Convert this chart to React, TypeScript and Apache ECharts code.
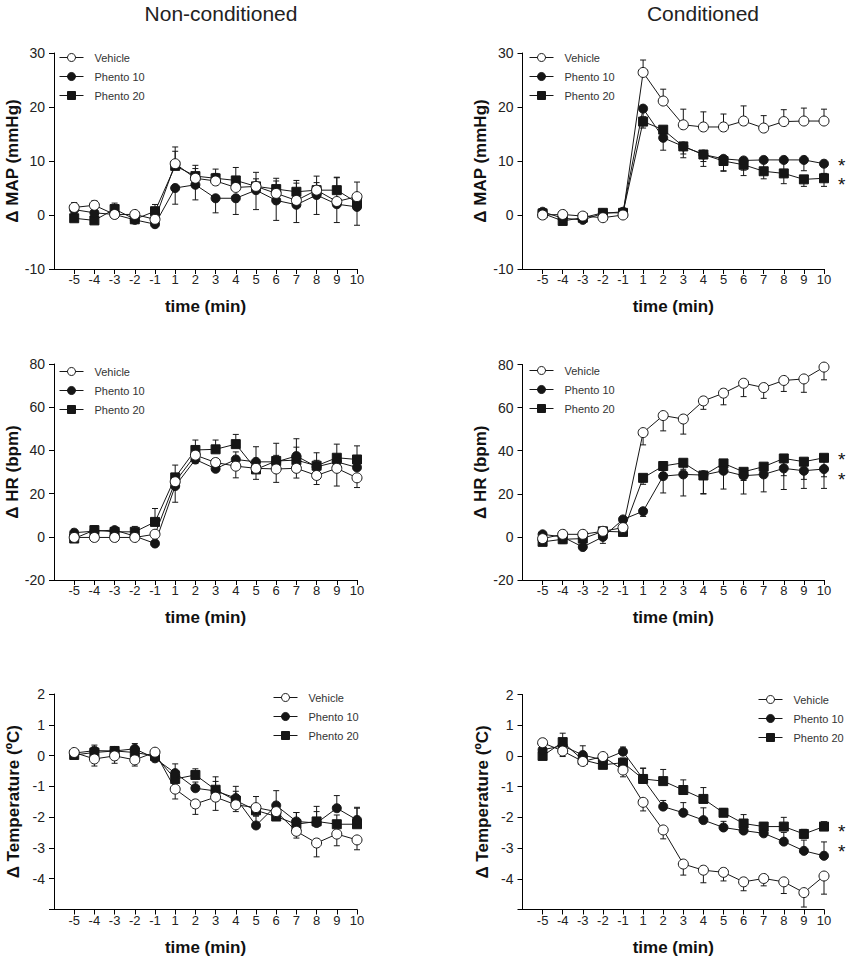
import React, { useEffect, useRef } from 'react';
import * as echarts from 'echarts';

// ---------- data ----------
const timeLabels = ['-5', '-4', '-3', '-2', '-1', '1', '2', '3', '4', '5', '6', '7', '8', '9', '10'];
const seriesNames = ['Vehicle', 'Phento 10', 'Phento 20'];
const columnTitles = ['Non-conditioned', 'Conditioned'];

// Δ MAP, non-conditioned
const mapNcVehicle = [1.4, 1.8, 0.1, 0.1, -0.8, 9.5, 6.8, 6.3, 5.1, 5.3, 4.0, 2.7, 4.6, 2.5, 3.4];
const mapNcVehicleSem = [0.9, 0.8, 0.5, 0.5, 0.8, 3.1, 2.4, 2.2, 2.0, 2.6, 2.8, 3.7, 2.6, 4.5, 2.7];
const mapNcP10 = [1.0, 0.4, 0.1, -0.9, -1.7, 5.0, 5.6, 3.1, 3.1, 4.6, 2.7, 1.9, 3.7, 2.0, 1.5];
const mapNcP10Sem = [0.8, 0.8, 0.5, 0.5, 0.5, 3.0, 2.8, 2.7, 3.0, 3.6, 3.7, 3.3, 3.6, 3.4, 3.4];
const mapNcP20 = [-0.6, -1.0, 1.1, -0.8, 0.7, 9.1, 7.2, 6.8, 6.4, 5.3, 4.8, 4.3, 4.6, 4.6, 2.3];
const mapNcP20Sem = [0.6, 0.6, 1.1, 0.6, 1.25, 2.7, 1.4, 0.9, 2.4, 1.4, 1.5, 1.6, 1.4, 2.3, 1.4];

// Δ MAP, conditioned
const mapCVehicle = [0.0, 0.1, -0.2, -0.5, 0.0, 26.4, 21.1, 16.7, 16.3, 16.3, 17.4, 16.1, 17.3, 17.4, 17.4];
const mapCVehicleSem = [0.4, 0.4, 0.4, 0.4, 0.4, 2.3, 2.2, 2.9, 2.8, 2.4, 2.8, 2.3, 2.2, 2.4, 2.2];
const mapCP10 = [0.6, -0.6, -0.9, 0.3, 0.6, 19.7, 14.3, 12.7, 11.2, 10.4, 10.1, 10.2, 10.2, 10.2, 9.5];
const mapCP10Sem = [0.3, 0.3, 0.3, 0.3, 0.3, 1.5, 2.3, 2.1, 2.2, 2.2, 1.8, 1.8, 1.8, 2.0, 1.8];
const mapCP20 = [0.3, -1.1, -0.5, 0.4, 0.4, 17.3, 15.8, 12.7, 11.2, 10.0, 9.3, 8.1, 7.7, 6.6, 6.8];
const mapCP20Sem = [0.3, 0.4, 0.3, 0.3, 0.3, 1.2, 1.5, 1.4, 1.3, 1.9, 2.0, 1.4, 1.9, 1.3, 1.5];

// Δ HR, non-conditioned
const hrNcVehicle = [-0.3, -0.3, -0.3, -0.3, 1.2, 25.5, 37.8, 34.4, 32.7, 31.7, 31.4, 31.7, 28.4, 31.7, 27.3];
const hrNcVehicleSem = [1.0, 0.8, 0.8, 1.0, 1.5, 9.5, 3.9, 4.3, 5.4, 5.1, 6.2, 4.5, 4.2, 8.2, 4.5];
const hrNcP10 = [1.9, 2.6, 3.1, 0.3, -3.1, 23.5, 35.8, 31.5, 35.8, 34.7, 34.7, 37.4, 32.4, 34.7, 32.1];
const hrNcP10Sem = [1.5, 1.0, 1.0, 1.0, 1.0, 3.0, 3.0, 3.0, 3.5, 7.0, 3.0, 8.0, 3.0, 3.0, 3.0];
const hrNcP20 = [-0.8, 3.1, 2.3, 2.3, 6.9, 27.5, 40.2, 40.5, 42.9, 31.2, 35.1, 35.5, 32.9, 36.6, 35.8];
const hrNcP20Sem = [2.0, 2.0, 1.5, 2.5, 6.2, 5.7, 4.6, 4.3, 4.5, 3.0, 8.2, 6.0, 6.0, 6.3, 6.3];

// Δ HR, conditioned
const hrCVehicle = [-0.8, 1.2, 1.2, 2.6, 4.3, 48.4, 56.3, 54.7, 63.1, 66.7, 71.3, 69.3, 72.6, 73.3, 78.8];
const hrCVehicleSem = [1.0, 1.0, 1.0, 1.0, 1.0, 5.7, 7.1, 7.0, 3.9, 5.4, 6.2, 5.0, 5.1, 6.2, 5.9];
const hrCP10 = [1.2, 0.0, -4.7, 0.0, 8.1, 11.9, 28.2, 29.0, 28.7, 30.7, 28.4, 29.0, 31.8, 30.7, 31.5];
const hrCP10Sem = [1.0, 1.0, 1.0, 3.0, 1.5, 2.4, 7.8, 10.0, 8.8, 8.5, 8.5, 8.1, 9.8, 8.2, 9.0];
const hrCP20 = [-2.3, -1.1, -0.8, 2.6, 2.3, 27.4, 32.9, 34.4, 28.5, 34.1, 30.2, 32.6, 36.4, 34.9, 36.7];
const hrCP20Sem = [1.0, 2.0, 1.0, 1.0, 1.0, 3.0, 3.0, 3.0, 8.4, 4.0, 4.0, 5.0, 8.0, 8.2, 8.8];

// Δ Temperature, non-conditioned
const tNcVehicle = [0.1, -0.11, -0.01, -0.14, 0.11, -1.09, -1.57, -1.35, -1.6, -1.69, -1.82, -2.46, -2.84, -2.55, -2.74];
const tNcVehicleSem = [0.05, 0.23, 0.24, 0.2, 0.05, 0.32, 0.34, 0.43, 0.22, 0.25, 0.25, 0.22, 0.45, 0.38, 0.32];
const tNcP10 = [0.08, 0.16, 0.15, 0.22, -0.09, -0.57, -1.06, -1.15, -1.38, -2.27, -1.62, -2.14, -2.19, -1.71, -2.09];
const tNcP10Sem = [0.05, 0.18, 0.1, 0.17, 0.05, 0.3, 0.2, 0.46, 0.38, 0.3, 0.48, 0.29, 0.54, 0.41, 0.41];
const tNcP20 = [0.02, 0.1, 0.15, 0.1, -0.01, -0.76, -0.63, -1.11, -1.46, -1.78, -1.98, -2.23, -2.14, -2.23, -2.23];
const tNcP20Sem = [0.05, 0.1, 0.1, 0.1, 0.05, 0.2, 0.2, 0.27, 0.3, 0.45, 0.3, 0.38, 0.32, 0.3, 0.52];

// Δ Temperature, conditioned
const tCVehicle = [0.43, 0.16, -0.18, -0.02, -0.46, -1.51, -2.41, -3.52, -3.72, -3.79, -4.1, -3.99, -4.1, -4.45, -3.91];
const tCVehicleSem = [0.1, 0.18, 0.1, 0.1, 0.22, 0.28, 0.29, 0.36, 0.41, 0.28, 0.29, 0.24, 0.38, 0.47, 0.59];
const tCP10 = [0.2, 0.33, 0.03, -0.13, 0.14, -0.75, -1.65, -1.85, -2.09, -2.33, -2.43, -2.52, -2.79, -3.09, -3.25];
const tCP10Sem = [0.1, 0.1, 0.3, 0.1, 0.15, 0.35, 0.2, 0.33, 0.4, 0.2, 0.2, 0.2, 0.3, 0.35, 0.45];
const tCP20 = [0.0, 0.45, -0.13, -0.29, -0.22, -0.75, -0.82, -1.11, -1.4, -1.85, -2.2, -2.3, -2.3, -2.54, -2.3];
const tCP20Sem = [0.1, 0.29, 0.1, 0.1, 0.15, 0.35, 0.38, 0.33, 0.37, 0.14, 0.29, 0.13, 0.3, 0.15, 0.16];

// ---------- styling / layout ----------
const FONT = '"Liberation Sans", Arial, Helvetica, sans-serif';
const INK = '#161616';

const symbolStyles = [
  { symbol: 'circle', size: 10, fill: '#ffffff' },
  { symbol: 'circle', size: 9, fill: INK },
  { symbol: 'rect', size: 9, fill: INK },
];

type Panel = {
  grid: { left: number; top: number; width: number; height: number };
  y: [number, number, number];
  yName: string;
  hideMin: boolean;
  legend: { left: number; top: number };
  means: number[][];
  sems: number[][];
  dirs: number[];
  star: (number | null)[]; // vertical nudge of the significance star per series (null = none)
};

const panels: Panel[] = [
  {
    grid: { left: 54, top: 53, width: 303, height: 216 }, y: [-10, 30, 10], yName: 'Δ MAP (mmHg)', hideMin: false,
    legend: { left: 59, top: 52 },
    means: [mapNcVehicle, mapNcP10, mapNcP20], sems: [mapNcVehicleSem, mapNcP10Sem, mapNcP20Sem], dirs: [1, -1, 1],
    star: [null, null, null],
  },
  {
    grid: { left: 522.5, top: 53, width: 301.5, height: 216 }, y: [-10, 30, 10], yName: 'Δ MAP (mmHg)', hideMin: false,
    legend: { left: 529, top: 52 },
    means: [mapCVehicle, mapCP10, mapCP20], sems: [mapCVehicleSem, mapCP10Sem, mapCP20Sem], dirs: [1, -1, -1],
    star: [null, 0, 5],
  },
  {
    grid: { left: 54, top: 364, width: 303, height: 216 }, y: [-20, 80, 20], yName: 'Δ HR (bpm)', hideMin: false,
    legend: { left: 59, top: 366 },
    means: [hrNcVehicle, hrNcP10, hrNcP20], sems: [hrNcVehicleSem, hrNcP10Sem, hrNcP20Sem], dirs: [-1, 1, 1],
    star: [null, null, null],
  },
  {
    grid: { left: 522.5, top: 364.5, width: 301.5, height: 215.5 }, y: [-20, 80, 20], yName: 'Δ HR (bpm)', hideMin: false,
    legend: { left: 529, top: 365 },
    means: [hrCVehicle, hrCP10, hrCP20], sems: [hrCVehicleSem, hrCP10Sem, hrCP20Sem], dirs: [-1, -1, -1],
    star: [null, 9, 0],
  },
  {
    grid: { left: 54, top: 694, width: 303, height: 215.5 }, y: [-5, 2, 1], yName: 'Δ Temperature (ºC)', hideMin: true,
    legend: { left: 273, top: 692 },
    means: [tNcVehicle, tNcP10, tNcP20], sems: [tNcVehicleSem, tNcP10Sem, tNcP20Sem], dirs: [-1, 1, 1],
    star: [null, null, null],
  },
  {
    grid: { left: 522.5, top: 694.5, width: 301.5, height: 215 }, y: [-5, 2, 1], yName: 'Δ Temperature (ºC)', hideMin: true,
    legend: { left: 758, top: 694 },
    means: [tCVehicle, tCP10, tCP20], sems: [tCVehicleSem, tCP10Sem, tCP20Sem], dirs: [-1, 1, 1],
    star: [null, -6, 3],
  },
];

const titlePos = [
  { left: 221, top: 3 },
  { left: 703, top: 3 },
];

function buildOption() {
  const tickIdx = timeLabels.map((_, k) => k);
  const axisLineStyle = { color: '#000', width: 1 };

  const grid = panels.map((p) => ({ ...p.grid, containLabel: false }));

  const xAxis = panels.map((p, i) => ({
    type: 'value',
    gridIndex: i,
    min: -1,
    max: timeLabels.length - 1,
    axisLine: { show: true, onZero: false, lineStyle: axisLineStyle },
    axisTick: { show: true, customValues: tickIdx, length: 5, inside: false, lineStyle: axisLineStyle },
    axisLabel: {
      customValues: tickIdx,
      formatter: (v: number) => timeLabels[Math.round(v)] ?? '',
      fontSize: 13,
      margin: 4,
      color: '#222',
      fontFamily: FONT,
    },
    splitLine: { show: false },
    name: 'time (min)',
    nameLocation: 'middle',
    nameGap: 29,
    nameTextStyle: { fontSize: 17, fontWeight: 'bold', color: '#111', fontFamily: FONT },
  }));

  const yAxis = panels.map((p, i) => ({
    type: 'value',
    gridIndex: i,
    min: p.y[0],
    max: p.y[1],
    interval: p.y[2],
    axisLine: { show: true, onZero: false, lineStyle: axisLineStyle },
    axisTick: { show: true, length: 5, inside: false, lineStyle: axisLineStyle },
    axisLabel: {
      formatter: (v: number) => (p.hideMin && v === p.y[0] ? '' : String(v)),
      fontSize: 14,
      margin: 9,
      color: '#222',
      fontFamily: FONT,
    },
    splitLine: { show: false },
    name: p.yName,
    nameLocation: 'middle',
    nameRotate: 90,
    nameGap: 32,
    nameTextStyle: { fontSize: 17, fontWeight: 'bold', color: '#111', fontFamily: FONT },
  }));

  const series: any[] = [];
  panels.forEach((p, i) => {
    // error bars first (underneath)
    [2, 1, 0].forEach((s) => {
      series.push({
        type: 'custom',
        xAxisIndex: i,
        yAxisIndex: i,
        z: 1,
        silent: true,
        encode: { x: 0, y: 1 },
        data: p.means[s].map((v, k) => [k, v, p.sems[s][k] * p.dirs[s]]),
        renderItem: (_params: any, api: any) => {
          const x = api.value(0);
          const y = api.value(1);
          const e = api.value(2);
          const p0 = api.coord([x, y]);
          const p1 = api.coord([x, y + e]);
          const cap = 3;
          const st = { stroke: INK, lineWidth: 1, fill: 'none' };
          return {
            type: 'group',
            children: [
              { type: 'line', shape: { x1: p0[0], y1: p0[1], x2: p1[0], y2: p1[1] }, style: st },
              { type: 'line', shape: { x1: p1[0] - cap, y1: p1[1], x2: p1[0] + cap, y2: p1[1] }, style: st },
            ],
          };
        },
      });
    });
    // lines with symbols: Phento 20, Phento 10, then Vehicle on top
    [2, 1, 0].forEach((s) => {
      const st = symbolStyles[s];
      const last = p.means[s].length - 1;
      const nudge = p.star[s];
      series.push({
        type: 'line',
        name: seriesNames[s],
        xAxisIndex: i,
        yAxisIndex: i,
        z: 2,
        symbol: st.symbol,
        symbolSize: st.size,
        showAllSymbol: true,
        itemStyle: { color: st.fill, borderColor: INK, borderWidth: 1, opacity: 1 },
        lineStyle: { color: INK, width: 1 },
        emphasis: { disabled: true },
        data: p.means[s].map((v, k) =>
          nudge !== null && k === last
            ? {
                value: [k, v],
                label: {
                  show: true,
                  formatter: '*',
                  position: 'right',
                  distance: 9,
                  fontSize: 19,
                  lineHeight: 12,
                  color: '#111',
                  fontFamily: FONT,
                  offset: [0, 1.5 + (nudge as number)],
                },
              }
            : [k, v]
        ),
      });
    });
  });

  const legend = panels.map((p) => ({
    data: seriesNames,
    orient: 'vertical',
    left: p.legend.left,
    top: p.legend.top,
    itemWidth: 24,
    itemHeight: 10,
    itemGap: 8,
    padding: 0,
    selectedMode: false,
    itemStyle: { borderWidth: 1, borderColor: INK },
    lineStyle: { width: 1, color: INK },
    textStyle: { fontSize: 11, color: '#333', fontFamily: FONT, padding: [0, 0, 0, 6] },
  }));

  const title = columnTitles.map((t, i) => ({
    text: t,
    left: titlePos[i].left,
    top: titlePos[i].top,
    textAlign: 'center',
    padding: 0,
    textStyle: { fontSize: 21, fontWeight: 'normal', color: '#222', fontFamily: FONT },
  }));

  return {
    animation: false,
    backgroundColor: '#ffffff',
    title,
    legend,
    grid,
    xAxis,
    yAxis,
    series,
  };
}

export default function App() {
  const ref = useRef<HTMLDivElement>(null);
  useEffect(() => {
    if (!ref.current) return;
    const chart = echarts.init(ref.current, undefined, { renderer: 'svg' });
    chart.setOption(buildOption() as any);
    return () => chart.dispose();
  }, []);
  return (
    <div
      ref={ref}
      style={{ position: 'absolute', left: 0, top: 0, width: 850, height: 962, background: '#fff' }}
    />
  );
}
